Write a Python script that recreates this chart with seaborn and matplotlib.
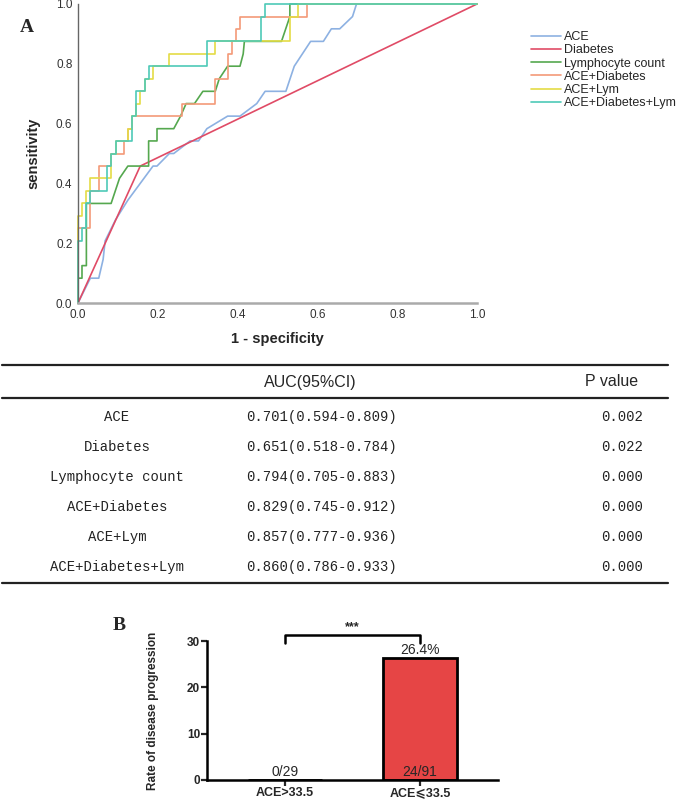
import numpy as np
import pandas as pd
import matplotlib
matplotlib.use("Agg")
import matplotlib.pyplot as plt
import seaborn as sns

# ROC curves (1 - specificity, sensitivity)
ace_fpr = [0, 0.031, 0.052, 0.063, 0.068, 0.094, 0.125, 0.188, 0.198, 0.229, 0.240, 0.281, 0.302,
           0.323, 0.375, 0.406, 0.448, 0.469, 0.521, 0.542, 0.583, 0.615, 0.635, 0.656, 0.688, 0.698, 1.0]
ace_tpr = [0, 0.083, 0.083, 0.146, 0.208, 0.278, 0.344, 0.458, 0.458, 0.5, 0.5, 0.542, 0.542,
           0.583, 0.625, 0.625, 0.667, 0.708, 0.708, 0.792, 0.875, 0.875, 0.917, 0.917, 0.958, 1.0, 1.0]

diab_fpr = [0, 0.156, 1.0]
diab_tpr = [0, 0.458, 1.0]

lym_fpr = [0, 0, 0.010, 0.010, 0.021, 0.021, 0.083, 0.104, 0.125, 0.177, 0.177, 0.198, 0.198, 0.240,
           0.257, 0.271, 0.292, 0.313, 0.344, 0.354, 0.375, 0.406, 0.414, 0.417, 0.510, 0.531, 0.531, 1.0]
lym_tpr = [0, 0.083, 0.083, 0.125, 0.125, 0.333, 0.333, 0.417, 0.458, 0.458, 0.542, 0.542, 0.583, 0.583,
           0.625, 0.667, 0.667, 0.708, 0.708, 0.75, 0.792, 0.792, 0.833, 0.875, 0.875, 0.958, 1.0, 1.0]

ace_diab_fpr = [0, 0, 0.031, 0.031, 0.052, 0.052, 0.083, 0.083, 0.115, 0.115, 0.125, 0.125, 0.135, 0.135,
                0.260, 0.260, 0.344, 0.344, 0.375, 0.375, 0.385, 0.385, 0.396, 0.396, 0.406, 0.406,
                0.573, 0.573, 1.0]
ace_diab_tpr = [0, 0.25, 0.25, 0.375, 0.375, 0.458, 0.458, 0.5, 0.5, 0.542, 0.542, 0.583, 0.583, 0.625,
                0.625, 0.667, 0.667, 0.75, 0.75, 0.833, 0.833, 0.875, 0.875, 0.917, 0.917, 0.958,
                0.958, 1.0, 1.0]

ace_lym_fpr = [0, 0, 0.010, 0.010, 0.021, 0.021, 0.031, 0.031, 0.083, 0.083, 0.094, 0.094, 0.125, 0.125,
               0.135, 0.135, 0.146, 0.146, 0.156, 0.156, 0.167, 0.167, 0.188, 0.188, 0.229, 0.229,
               0.344, 0.344, 0.531, 0.531, 0.552, 0.552, 1.0]
ace_lym_tpr = [0, 0.292, 0.292, 0.333, 0.333, 0.375, 0.375, 0.417, 0.417, 0.5, 0.5, 0.542, 0.542, 0.583,
               0.583, 0.625, 0.625, 0.667, 0.667, 0.708, 0.708, 0.75, 0.75, 0.792, 0.792, 0.833,
               0.833, 0.875, 0.875, 0.958, 0.958, 1.0, 1.0]

all3_fpr = [0, 0, 0.010, 0.010, 0.021, 0.021, 0.031, 0.031, 0.073, 0.073, 0.083, 0.083, 0.094, 0.094,
            0.135, 0.135, 0.146, 0.146, 0.167, 0.167, 0.177, 0.177, 0.323, 0.323, 0.458, 0.458,
            0.469, 0.469, 1.0]
all3_tpr = [0, 0.208, 0.208, 0.25, 0.25, 0.333, 0.333, 0.375, 0.375, 0.458, 0.458, 0.5, 0.5, 0.542,
            0.542, 0.625, 0.625, 0.708, 0.708, 0.75, 0.75, 0.792, 0.792, 0.875, 0.875, 0.958,
            0.958, 1.0, 1.0]

curve_names = ["ACE", "Diabetes", "Lymphocyte count", "ACE+Diabetes", "ACE+Lym", "ACE+Diabetes+Lym"]
curve_colors = ["#8db1e2", "#e04b66", "#55a84f", "#f39a78", "#e4dc45", "#4ecab8"]

# table values
auc_ci = ["0.701(0.594-0.809)", "0.651(0.518-0.784)", "0.794(0.705-0.883)",
          "0.829(0.745-0.912)", "0.857(0.777-0.936)", "0.860(0.786-0.933)"]
p_values = ["0.002", "0.022", "0.000", "0.000", "0.000", "0.000"]

# panel B
groups = ["ACE>33.5", "ACE\u2a7d33.5"]
rates = [0.0, 26.4]
counts = ["0/29", "24/91"]
rate_labels = ["", "26.4%"]

rows = []
for name, f, t in zip(curve_names,
                      [ace_fpr, diab_fpr, lym_fpr, ace_diab_fpr, ace_lym_fpr, all3_fpr],
                      [ace_tpr, diab_tpr, lym_tpr, ace_diab_tpr, ace_lym_tpr, all3_tpr]):
    for i, (a, b) in enumerate(zip(f, t)):
        rows.append({"curve": name, "order": i, "fpr": a, "tpr": b})
roc = pd.DataFrame(rows)

sns.set_style("white")
plt.rcParams['font.family'] = ['Liberation Sans', 'DejaVu Sans']

W, H = 685, 799
fig = plt.figure(figsize=(W / 100, H / 100), dpi=100)

def box(x0, y0, x1, y1):
    return [x0 / W, 1 - y1 / H, (x1 - x0) / W, (y1 - y0) / H]

# ---- panel A: ROC ----
ax = fig.add_axes(box(78, 4, 477, 303))
sns.lineplot(data=roc, x="fpr", y="tpr", hue="curve", hue_order=curve_names,
             palette=dict(zip(curve_names, curve_colors)), sort=False, estimator=None,
             linewidth=1.2, ax=ax)
for ln in ax.lines:
    ln.set_clip_on(False)
ax.set_xlim(0, 1)
ax.set_ylim(0, 1)
ticks = [0, 0.2, 0.4, 0.6, 0.8, 1.0]
ax.set_xticks(ticks)
ax.set_yticks(ticks)
ax.set_xticklabels([f"{v:.1f}" for v in ticks])
ax.set_yticklabels([f"{v:.1f}" for v in ticks])
ax.tick_params(length=0, labelsize=8.5, labelcolor="#333333", pad=4)
for s in ["top", "right"]:
    ax.spines[s].set_visible(False)
ax.spines["left"].set_color("#666666")
ax.spines["left"].set_linewidth(1.0)
ax.spines["bottom"].set_color("#aaaaaa")
ax.spines["bottom"].set_linewidth(1.8)
ax.set_xlabel("1 - specificity", fontsize=10.5, fontweight="bold", labelpad=8)
ax.set_ylabel("sensitivity", fontsize=10.5, fontweight="bold", labelpad=11)
h, l = ax.get_legend_handles_labels()
ax.legend_.remove()
fig.legend(h, l, loc="upper left", bbox_to_anchor=(526 / W, 1 - 26 / H), frameon=False,
           fontsize=9, handlelength=2.4, labelspacing=0.1, handletextpad=0.25, borderaxespad=0)

# ---- overlay for panel letters and table ----
ov = fig.add_axes([0, 0, 1, 1])
ov.set_xlim(0, W)
ov.set_ylim(H, 0)
ov.axis("off")
ov.patch.set_alpha(0)
ov.text(27, 28, "A", fontsize=14, fontweight="bold", family="Liberation Serif", ha="center", va="center")
ov.text(119, 625, "B", fontsize=14, fontweight="bold", family="Liberation Serif", ha="center", va="center")

for y in [365, 398, 583]:
    ov.plot([2, 668], [y, y], color="#222222", linewidth=1.6)
ov.text(310, 382, "AUC(95%CI)", fontsize=11.5, ha="center", va="center")
ov.text(612, 382, "P value", fontsize=11.5, ha="center", va="center")
for i, (m, a, p) in enumerate(zip(curve_names, auc_ci, p_values)):
    y = 417 + 30 * i
    ov.text(117, y, m, fontsize=10, family="Liberation Mono", ha="center", va="center", color="#222222")
    ov.text(322, y, a, fontsize=10, family="Liberation Mono", ha="center", va="center", color="#222222")
    ov.text(622, y, p, fontsize=10, family="Liberation Mono", ha="center", va="center", color="#222222")

# ---- panel B: bar chart ----
bx = fig.add_axes(box(207, 641, 498, 780))
sns.barplot(x=groups, y=rates, hue=groups, palette=["white", "#e64545"], legend=False,
            saturation=1, width=0.55, edgecolor="black", linewidth=2, ax=bx)
bx.set_xlim(-0.578, 1.578)
bx.set_ylim(0, 30)
bx.set_yticks([0, 10, 20, 30])
for s in ["top", "right"]:
    bx.spines[s].set_visible(False)
for s in ["left", "bottom"]:
    bx.spines[s].set_linewidth(1.8)
    bx.spines[s].set_color("black")
bx.tick_params(direction="out", length=4, width=1.6, labelsize=8.5, pad=1, left=True, bottom=True)
for t in bx.get_yticklabels() + bx.get_xticklabels():
    t.set_fontweight("bold")
for t in bx.get_xticklabels():
    t.set_fontsize(9)
bx.set_ylabel("Rate of disease progression", fontsize=8.5, fontweight="bold", labelpad=20)
for i, (r, c, lab) in enumerate(zip(rates, counts, rate_labels)):
    bx.text(i, 0.3, c, fontsize=10, ha="center", va="bottom")
    if lab:
        bx.text(i, r + 0.2, lab, fontsize=10, ha="center", va="bottom")
bx.plot([0, 0, 1, 1], [29.6, 31.3, 31.3, 29.6], color="black", linewidth=1.8, clip_on=False)
bx.text(0.5, 31.7, "***", fontsize=9, fontweight="bold", ha="center", va="bottom")

fig.savefig("out.png", dpi=100)
